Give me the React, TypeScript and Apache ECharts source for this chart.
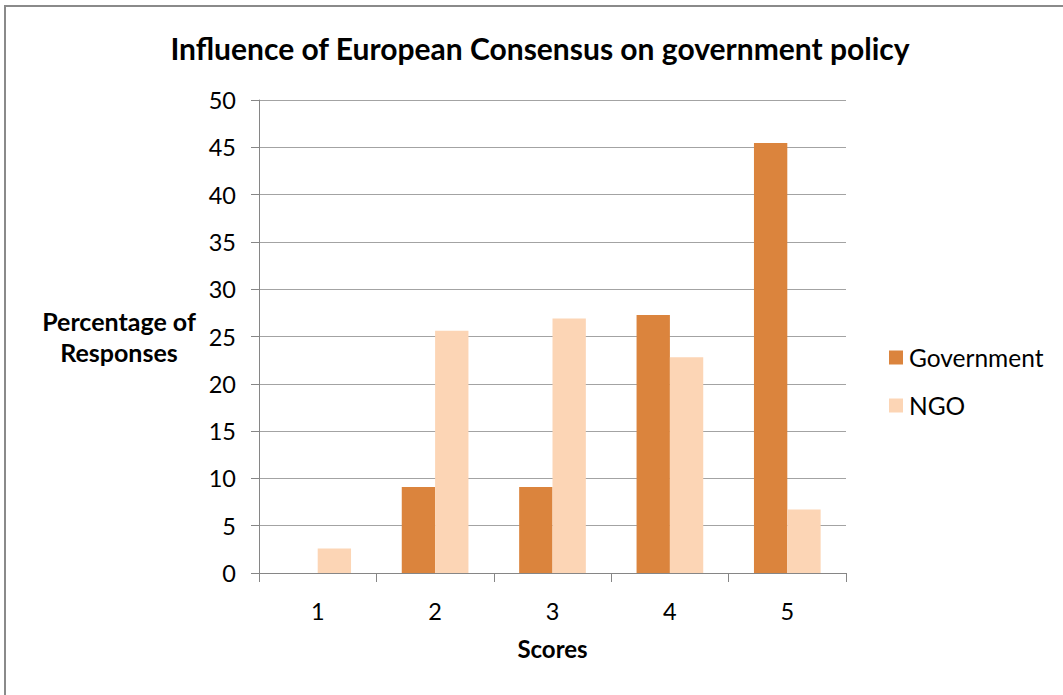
import React, { useEffect, useRef } from "react";
import * as echarts from "echarts";

const categories = ["1", "2", "3", "4", "5"];
const governmentValues = [0, 9.09, 9.09, 27.27, 45.45];
const ngoValues = [2.6, 25.6, 26.9, 22.8, 6.7];
const seriesNames = ["Government", "NGO"];
const titleText = "Influence of European Consensus on government policy";
const yAxisName = "Percentage of\nResponses";
const xAxisName = "Scores";

export default function App() {
  const ref = useRef<HTMLDivElement>(null);
  useEffect(() => {
    document.body.style.margin = "0";
    const chart = echarts.init(ref.current!, null, { renderer: "svg" });
    const font = "Lato, 'Noto Sans', sans-serif";
    chart.setOption({
      animation: false,
      backgroundColor: "#ffffff",
      graphic: [
        {
          type: "rect",
          shape: { x: 5, y: 6, width: 3000, height: 3000 },
          style: { fill: "none", stroke: "#8a8a8a", lineWidth: 2 },
          silent: true,
        },
        {
          type: "text",
          x: 540,
          y: 48,
          style: {
            text: titleText,
            textAlign: "center",
            textVerticalAlign: "middle",
            fontFamily: font,
            fontWeight: "bold",
            fontSize: 30,
            fill: "#000000",
          },
        },
      ],
      legend: {
        orient: "vertical",
        left: 889,
        top: 345,
        padding: 0,
        itemWidth: 14,
        itemHeight: 14,
        itemGap: 23,
        icon: "rect",
        textStyle: { fontFamily: font, fontSize: 24.5, color: "#000000", padding: [0, 0, 0, 1] },
        data: seriesNames,
      },
      grid: { left: 259, right: 217, top: 100, bottom: 122, containLabel: false },
      xAxis: {
        type: "category",
        data: categories,
        name: xAxisName,
        nameLocation: "middle",
        nameGap: 63,
        nameTextStyle: { fontFamily: font, fontWeight: "bold", fontSize: 24, color: "#000000" },
        axisLine: { lineStyle: { color: "#868686", width: 1 } },
        axisTick: { show: true, length: 9, lineStyle: { color: "#868686" } },
        axisLabel: { margin: 26, fontFamily: font, fontSize: 23.5, color: "#000000" },
        splitLine: { show: false },
      },
      yAxis: {
        type: "value",
        min: 0,
        max: 50,
        interval: 5,
        name: yAxisName,
        nameLocation: "middle",
        nameRotate: 0,
        nameGap: 140,
        nameTextStyle: {
          fontFamily: font,
          fontWeight: "bold",
          fontSize: 25,
          color: "#000000",
          align: "center",
          lineHeight: 31,
        },
        axisLine: { show: true, lineStyle: { color: "#868686", width: 1 } },
        axisTick: { show: true, length: 8, lineStyle: { color: "#868686" } },
        axisLabel: { margin: 23, fontFamily: font, fontSize: 23.5, color: "#000000" },
        splitLine: { show: true, lineStyle: { color: "#a3a3a3", width: 1 } },
      },
      series: [
        {
          name: seriesNames[0],
          type: "bar",
          data: governmentValues,
          barWidth: "28.4%",
          barGap: "0%",
          itemStyle: { color: "#DB843D" },
        },
        {
          name: seriesNames[1],
          type: "bar",
          data: ngoValues,
          barWidth: "28.4%",
          barGap: "0%",
          itemStyle: { color: "#FCD5B5" },
        },
      ],
    });
    return () => chart.dispose();
  }, []);
  return <div ref={ref} style={{ width: 1063, height: 695 }} />;
}
